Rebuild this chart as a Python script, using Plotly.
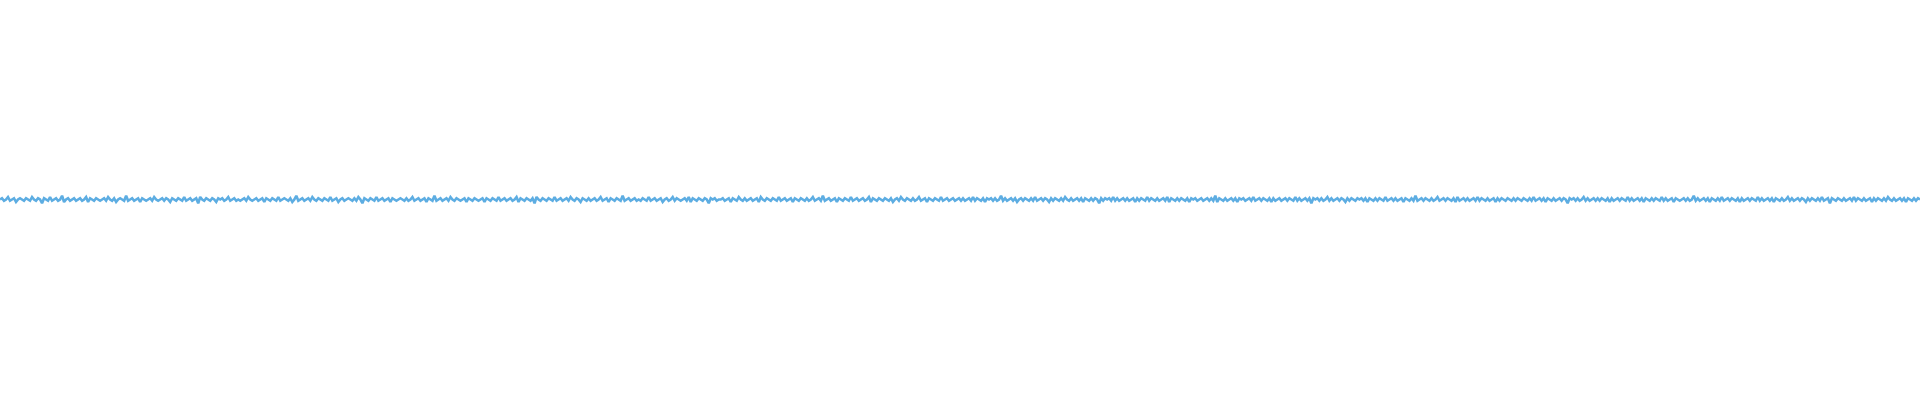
import plotly.graph_objects as go

row01 = [0,1,-1,0,2,-1,0,1,-2,0,1,0,-1,1,0,-1,2,0,-1,1,0,-3,1,0,-1,2,-1,0,1,-1,0,3,-2,0,1,-1,0,1,-1,0]
row02 = [1,-1,0,2,-2,1,0,-1,1,0,-1,0,1,-1,2,0,-1,1,-2,0,1,0,-1,3,-1,0,1,-1,0,1,-2,1,0,-1,0,1,-1,2,0,-1]
row03 = [0,1,-1,1,0,-2,1,0,-1,1,0,-1,2,-1,0,1,-1,0,1,-3,2,0,-1,1,0,-1,1,0,-2,1,0,1,-1,0,2,-1,0,1,-1,0]
row04 = [-1,0,1,-1,2,0,-1,0,1,-1,0,1,-2,1,0,-1,1,0,-1,2,-1,0,1,0,-1,1,-2,0,3,-1,0,1,-1,0,1,-1,2,0,-1,1]
row05 = [0,-1,1,0,-1,2,-1,0,1,-2,0,1,-1,0,1,0,-1,1,-1,2,0,-3,1,0,-1,1,0,-1,2,-1,0,1,-1,0,1,-2,1,0,-1,0]
row06 = [1,0,-1,1,-1,0,2,-1,0,1,-1,0,1,-2,1,0,-1,3,-1,0,1,-1,0,1,-1,2,0,-1,1,0,-1,0,1,-2,1,0,-1,1,0,-1]
row07 = [0,1,-2,1,0,-1,1,0,-1,2,-1,0,1,-1,0,1,-1,0,2,-2,1,0,-1,1,0,-1,1,-3,2,0,-1,1,0,-1,1,0,-1,2,-1,0]
row08 = [1,-1,0,1,-1,2,0,-1,1,0,-2,1,0,-1,1,-1,0,1,-1,0,2,-1,0,1,-2,1,0,-1,1,0,-1,3,-1,0,1,-1,0,1,-1,0]
row09 = [-1,1,0,-1,2,-1,0,1,-1,0,1,-2,0,1,-1,0,2,-1,1,0,-1,0,1,-1,2,-2,1,0,-1,1,0,-1,1,0,-3,1,0,1,-1,0]
row10 = [0,1,-1,0,1,-2,1,0,-1,2,0,-1,1,-1,0,1,-1,0,1,-2,2,0,-1,1,0,-1,1,0,-1,2,-1,0,1,-1,0,1,-2,1,0,-1]
row11 = [1,0,-1,1,-1,0,2,-1,0,1,-1,3,-1,0,1,-1,0,1,-2,1,0,-1,1,0,-1,2,-1,0,1,-1,0,1,-1,0,2,-2,1,0,-1,1]
row12 = [0,-1,1,0,-1,1,-2,0,1,-1,2,0,-1,1,0,-1,1,-1,0,2,-1,0,1,-2,1,0,-1,1,0,-1,2,-1,0,1,-1,0,1,-1,0,1]
row13 = [-1,1,-1,0,1,-1,2,-1,1,0,-1,1,-2,1,0,1,-1,1,-1,0,3,-1,1,-1,0,1,-1,1,-2,0,1,-1,1,0,-1,1,-1,2,-1,0]
row14 = [1,-1,1,0,-2,1,-1,1,0,-1,1,-1,2,0,-1,1,-1,0,1,-1,1,-2,1,0,-1,1,-1,1,0,-3,1,-1,1,0,1,-1,2,-1,1,-1]
row15 = [0,1,-1,1,-1,0,1,-2,1,-1,1,0,-1,2,-1,1,0,-1,1,-1,0,1,-1,2,-2,1,0,-1,1,-1,1,0,-1,1,-2,1,0,1,-1,0]
row16 = [1,-1,0,1,-1,1,-1,3,-2,1,0,-1,1,-1,0,1,-1,1,-2,1,0,1,-1,0,1,-1,2,-1,0,1,-1,1,0,-1,1,-2,1,-1,0,1]
row17 = [-1,0,1,-1,1,0,-1,2,-1,1,-1,0,1,-1,1,-3,1,0,1,-1,1,-1,0,2,-1,1,-1,0,1,-1,1,0,-2,1,-1,1,0,-1,1,0]
row18 = [1,-1,1,-2,1,0,-1,1,-1,1,0,-1,2,-1,0,1,-1,1,-1,0,1,-2,1,0,-1,1,-1,3,-1,0,1,-1,1,0,-1,1,-1,0,2,-1]
row19 = [0,1,-1,1,0,-1,1,-2,2,-1,0,1,-1,1,-1,0,1,-1,2,-1,1,0,-1,1,-1,0,1,-2,1,-1,1,0,-1,1,0,-1,1,-1,1,0]
row20 = [-1,1,0,-1,1,-1,2,-1,0,1,-1,1,-2,1,0,-1,1,-1,0,1,-1,1,0,-3,1,0,1,-1,1,-1,0,2,-1,1,-1,0,1,-1,1,-1]
row21 = [1,0,-1,1,-2,1,-1,0,1,-1,1,0,-1,2,-1,1,-1,0,1,-1,1,-2,1,0,-1,1,-1,1,0,-1,2,-1,1,-1,0,1,-2,1,0,-1]
row22 = [0,1,-1,1,-1,0,3,-1,1,-1,0,1,-1,1,-2,1,0,-1,1,-1,2,-1,0,1,-1,1,0,-1,1,-2,1,-1,0,1,-1,1,0,-1,2,-1]
row23 = [1,-1,0,1,-1,1,-2,1,0,-1,1,-1,0,2,-1,1,-1,0,1,-1,1,0,-2,1,-1,1,0,-1,1,-1,2,-1,0,1,-3,1,0,-1,1,0]
row24 = [-1,1,-1,0,1,-1,2,-1,1,0,-1,1,-1,0,1,-2,1,-1,1,0,-1,1,-1,2,0,-1,1,-1,0,1,-1,1,-2,1,0,-1,1,-1,1,0]

signal = (row01 + row02 + row03 + row04 + row05 + row06 + row07 + row08 +
          row09 + row10 + row11 + row12 + row13 + row14 + row15 + row16 +
          row17 + row18 + row19 + row20 + row21 + row22 + row23 + row24)
samples = list(range(len(signal)))

fig = go.Figure(go.Scatter(x=samples, y=signal, mode="lines",
                           line=dict(color="#5dade2", width=2.6),
                           hoverinfo="skip"))
fig.update_layout(
    autosize=True, height=400,
    margin=dict(l=0, r=0, t=0, b=0),
    paper_bgcolor="white", plot_bgcolor="white",
    showlegend=False,
    xaxis=dict(visible=False, range=[0, len(signal) - 1]),
    yaxis=dict(visible=False, range=[-160.4, 159.6]),
)
fig.write_html("out.html", config={"displayModeBar": False, "responsive": True})

with open("out.html", "r", encoding="utf-8") as f:
    html = f.read()
html = html.replace("<head>", "<head><style>html,body{margin:0;padding:0;overflow:hidden;}</style>", 1)
with open("out.html", "w", encoding="utf-8") as f:
    f.write(html)
